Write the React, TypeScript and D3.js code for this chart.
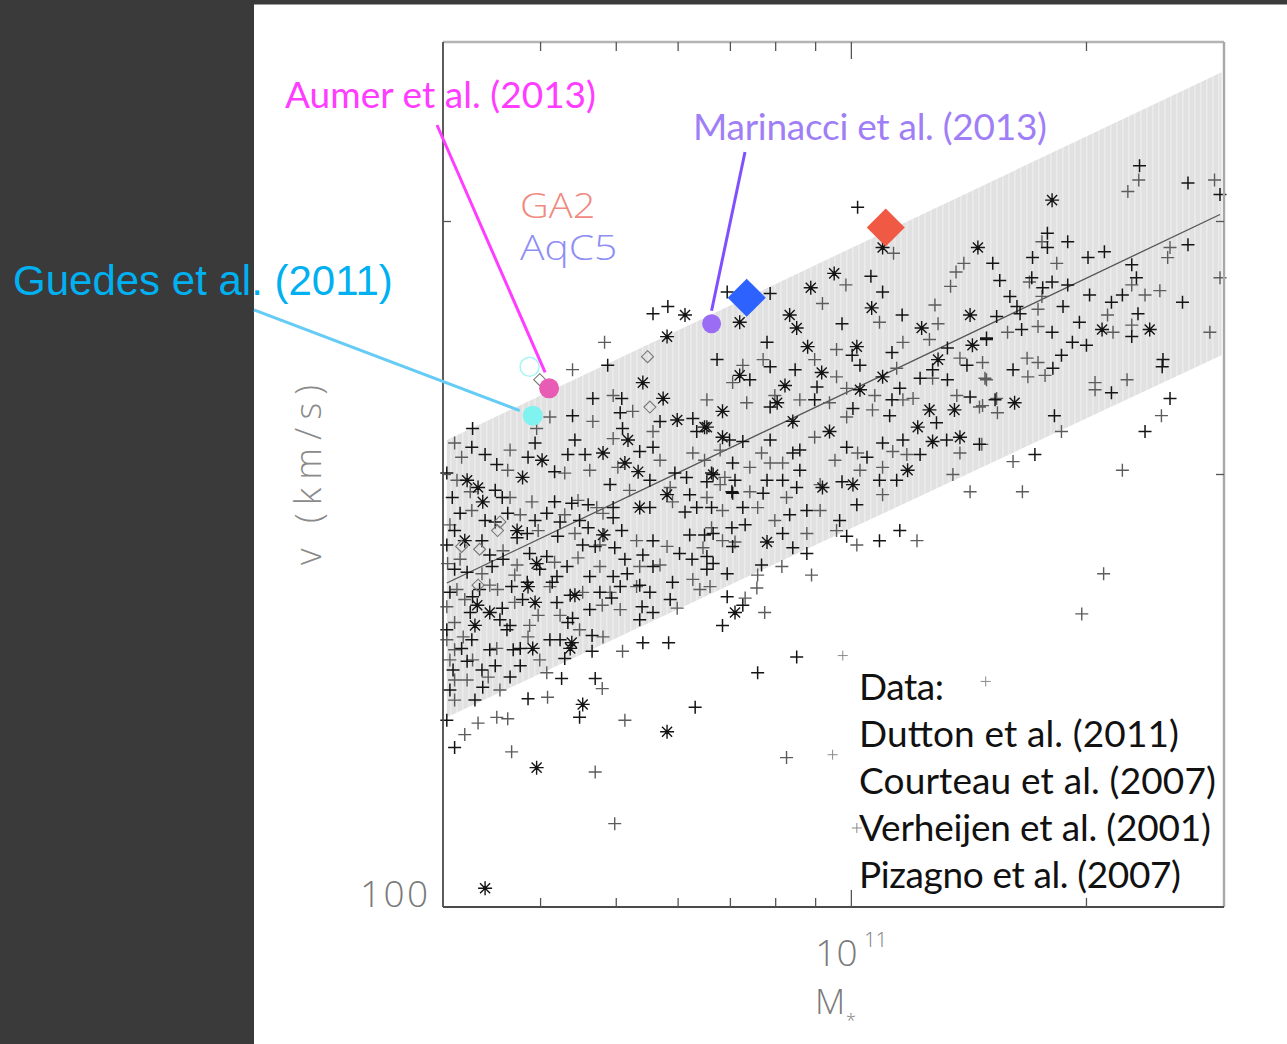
import React from 'react';
import * as d3 from 'd3';

// all data as [log10 M* (Msun), log10 v (km/s)]
const duttonPts: [number, number][] = [
  [10.746, 2.413], [10.765, 2.418], [10.688, 2.377], [10.669, 2.354], [10.706, 2.354], [10.643, 2.342],
  [10.797, 2.340], [10.515, 2.333], [10.514, 2.320], [10.595, 2.323], [10.546, 2.308], [10.586, 2.313],
  [10.620, 2.303], [10.637, 2.315], [10.659, 2.315], [10.729, 2.317], [10.707, 2.333], [10.746, 2.320],
  [10.774, 2.302], [10.789, 2.299], [10.802, 2.331], [10.821, 2.302], [10.851, 2.297], [10.844, 2.325],
  [10.755, 2.338], [10.704, 2.344], [10.531, 2.315],
  [10.482, 2.302], [10.544, 2.290], [10.553, 2.285], [10.560, 2.274], [10.499, 2.274], [10.544, 2.268],
  [10.620, 2.282], [10.610, 2.274], [10.627, 2.268], [10.642, 2.281], [10.663, 2.280], [10.695, 2.278],
  [10.695, 2.271], [10.742, 2.278], [10.787, 2.275], [10.802, 2.278], [10.821, 2.278], [10.847, 2.289],
  [10.663, 2.264], [10.624, 2.258], [10.585, 2.260], [10.572, 2.257], [10.527, 2.255], [10.492, 2.262],
  [10.492, 2.235], [10.508, 2.233], [10.540, 2.237], [10.554, 2.242], [10.588, 2.246], [10.610, 2.244],
  [10.636, 2.237], [10.656, 2.252], [10.672, 2.251], [10.697, 2.250], [10.706, 2.262], [10.733, 2.245],
  [10.746, 2.255], [10.780, 2.246], [10.796, 2.242], [10.815, 2.244], [10.823, 2.260], [10.848, 2.251],
  [10.746, 2.237], [10.713, 2.232], [10.695, 2.230], [10.665, 2.230], [10.623, 2.230], [10.585, 2.226],
  [10.565, 2.223], [10.524, 2.221], [10.515, 2.216], [10.486, 2.219], [10.640, 2.217], [10.678, 2.219],
  [10.704, 2.223], [10.742, 2.219], [10.771, 2.226], [10.815, 2.235], [10.841, 2.232],
  [10.617, 2.226], [10.729, 2.224], [10.768, 2.214], [10.732, 2.209], [10.746, 2.205], [10.693, 2.215],
  [10.623, 2.212], [10.579, 2.214], [10.553, 2.208], [10.512, 2.205], [10.563, 2.196], [10.559, 2.193],
  [10.482, 2.193], [10.514, 2.186], [10.501, 2.180], [10.537, 2.179], [10.567, 2.179], [10.576, 2.180],
  [10.637, 2.198], [10.643, 2.201], [10.668, 2.189], [10.668, 2.178], [10.633, 2.173], [10.508, 2.171],
  [10.490, 2.165], [10.527, 2.165], [10.528, 2.153], [10.563, 2.160], [10.544, 2.168], [10.482, 2.130],
  [10.733, 2.184], [10.766, 2.184], [10.482, 2.252], [10.486, 2.151],
  [10.492, 2.111], [10.652, 2.132], [10.672, 2.159], [10.800, 2.139], [10.880, 2.163], [10.930, 2.174],
  [10.835, 2.196], [10.861, 2.210], [10.586, 2.145], [10.629, 2.159],
  [11.369, 2.516], [11.431, 2.504], [11.472, 2.496], [11.251, 2.469], [11.251, 2.459], [11.277, 2.463],
  [11.181, 2.448], [11.232, 2.452], [11.303, 2.452], [11.324, 2.456], [11.359, 2.447], [11.431, 2.461],
  [11.231, 2.438], [11.257, 2.435], [11.277, 2.433], [11.245, 2.431], [11.203, 2.425], [11.305, 2.426],
  [11.347, 2.426], [11.365, 2.438], [11.424, 2.421], [11.333, 2.421], [11.271, 2.418], [11.212, 2.418],
  [11.216, 2.413], [11.186, 2.411], [11.292, 2.407], [11.367, 2.413], [11.359, 2.397], [11.218, 2.402],
  [11.173, 2.395], [11.257, 2.400], [11.283, 2.393], [11.301, 2.391], [11.269, 2.384], [11.207, 2.374],
  [11.258, 2.375], [11.399, 2.381], [11.398, 2.376], [11.333, 2.358], [11.408, 2.354], [11.376, 2.331],
  [11.260, 2.342], [11.235, 2.315], [11.190, 2.436],
  [11.008, 2.487], [11.025, 2.439], [11.040, 2.428], [10.841, 2.428], [10.896, 2.427],
  [11.065, 2.412], [10.988, 2.406], [10.892, 2.393], [11.001, 2.384], [11.052, 2.386], [11.123, 2.389],
  [11.173, 2.396], [11.148, 2.377], [11.104, 2.374], [10.828, 2.381], [10.896, 2.376], [10.956, 2.362],
  [11.062, 2.361], [11.088, 2.368], [11.123, 2.367], [11.152, 2.355], [11.184, 2.353], [11.109, 2.337],
  [11.052, 2.353], [11.002, 2.347], [10.953, 2.353], [10.896, 2.348], [10.861, 2.324], [10.896, 2.325],
  [10.925, 2.316], [10.934, 2.318], [10.994, 2.320], [11.020, 2.313], [11.040, 2.323], [11.066, 2.325],
  [11.088, 2.315], [11.122, 2.325], [11.164, 2.322], [11.058, 2.297], [11.062, 2.262], [11.007, 2.280],
  [10.988, 2.296], [10.930, 2.292], [10.892, 2.297], [10.848, 2.309], [10.815, 2.296], [10.848, 2.288],
  [10.887, 2.288], [10.912, 2.297], [10.943, 2.276], [10.921, 2.273], [10.861, 2.278], [10.847, 2.264],
  [10.812, 2.259], [10.912, 2.260], [10.943, 2.246], [10.925, 2.250], [10.885, 2.238], [10.823, 2.239],
  [10.841, 2.216], [10.985, 2.269], [10.994, 2.258], [11.036, 2.255],
  [10.489, 2.285], [10.531, 2.269], [10.595, 2.269], [10.537, 2.245], [10.601, 2.235], [10.550, 2.200],
  [10.614, 2.186], [10.518, 2.144], [10.576, 2.168], [10.627, 2.186], [10.646, 2.325], [10.691, 2.294],
  [10.742, 2.297], [10.793, 2.287], [10.652, 2.269], [10.710, 2.242], [10.793, 2.259], [10.729, 2.200],
  [10.665, 2.207], [10.870, 2.367], [10.928, 2.374], [11.011, 2.377], [11.049, 2.342], [10.934, 2.304],
  [10.864, 2.266], [11.036, 2.297],
];

const courteauPts: [number, number][] = [
  [10.684, 2.393], [10.643, 2.374], [10.695, 2.356], [10.669, 2.338], [10.492, 2.323], [10.597, 2.333],
  [10.614, 2.341], [10.560, 2.304], [10.633, 2.302], [10.701, 2.306], [10.695, 2.326], [10.755, 2.311],
  [10.797, 2.316], [10.838, 2.299], [10.746, 2.331], [10.720, 2.345], [10.501, 2.313], [10.563, 2.318],
  [10.495, 2.297], [10.563, 2.285], [10.514, 2.276], [10.591, 2.282], [10.633, 2.273], [10.650, 2.283],
  [10.674, 2.278], [10.682, 2.274], [10.771, 2.282], [10.815, 2.285], [10.835, 2.276], [10.646, 2.260],
  [10.599, 2.262], [10.554, 2.248], [10.483, 2.239], [10.527, 2.232], [10.572, 2.238], [10.620, 2.240],
  [10.650, 2.243], [10.684, 2.259], [10.725, 2.255], [10.764, 2.251], [10.810, 2.250], [10.835, 2.255],
  [10.729, 2.237], [10.678, 2.237], [10.614, 2.223], [10.547, 2.221], [10.495, 2.221], [10.656, 2.219],
  [10.725, 2.223], [10.797, 2.228],
  [10.537, 2.224], [10.691, 2.219], [10.777, 2.208], [10.681, 2.210], [10.599, 2.203], [10.569, 2.212],
  [10.482, 2.209], [10.492, 2.198], [10.503, 2.188], [10.492, 2.179], [10.546, 2.180], [10.586, 2.188],
  [10.652, 2.193], [10.682, 2.188], [10.486, 2.172], [10.515, 2.172], [10.535, 2.160], [10.508, 2.158],
  [10.610, 2.163], [10.707, 2.178], [10.486, 2.266], [10.482, 2.186], [10.492, 2.144],
  [10.505, 2.120], [10.522, 2.128], [10.546, 2.132], [10.560, 2.131], [10.565, 2.108], [10.672, 2.094],
  [10.697, 2.058], [10.681, 2.152], [10.710, 2.130], [10.917, 2.104], [10.889, 2.205], [10.879, 2.222],
  [10.611, 2.146],
  [11.368, 2.506], [11.354, 2.498], [11.465, 2.506], [11.244, 2.463], [11.263, 2.448], [11.408, 2.459],
  [11.405, 2.452], [11.228, 2.435], [11.244, 2.425], [11.359, 2.433], [11.376, 2.426], [11.239, 2.416],
  [11.328, 2.412], [11.359, 2.405], [11.335, 2.400], [11.239, 2.404], [11.200, 2.400], [11.225, 2.382],
  [11.239, 2.379], [11.226, 2.369], [11.248, 2.370], [11.168, 2.379], [11.173, 2.367], [11.312, 2.365],
  [11.312, 2.360], [11.353, 2.367], [11.459, 2.400], [11.397, 2.342], [11.186, 2.354], [11.187, 2.344],
  [11.168, 2.349], [11.167, 2.322], [11.207, 2.310], [11.219, 2.289], [11.347, 2.304], [11.472, 2.438],
  [11.323, 2.232], [11.295, 2.204], [11.395, 2.429], [11.269, 2.331], [11.107, 2.419],
  [11.054, 2.455], [10.993, 2.433], [11.144, 2.448], [11.134, 2.442], [11.127, 2.432],
  [10.963, 2.420], [11.036, 2.407], [11.111, 2.406], [10.981, 2.388], [11.066, 2.393], [11.100, 2.395],
  [11.139, 2.382], [10.861, 2.377], [10.848, 2.365], [10.887, 2.381], [10.981, 2.369], [10.994, 2.361],
  [11.058, 2.375], [11.079, 2.354], [11.104, 2.368], [11.135, 2.356], [11.171, 2.368], [11.164, 2.348],
  [11.066, 2.353], [11.027, 2.346], [10.994, 2.341], [10.972, 2.351], [10.934, 2.353], [10.866, 2.351],
  [10.815, 2.353], [10.885, 2.316], [10.912, 2.309], [10.953, 2.327], [11.008, 2.316], [11.053, 2.317],
  [11.071, 2.315], [11.139, 2.316], [11.040, 2.306], [11.130, 2.301], [11.152, 2.289], [11.084, 2.255],
  [11.040, 2.287], [10.960, 2.294], [10.870, 2.306], [10.832, 2.318], [10.832, 2.294], [10.870, 2.289],
  [10.896, 2.309], [10.917, 2.285], [10.960, 2.276], [10.880, 2.278], [10.821, 2.264], [10.851, 2.254],
  [10.943, 2.260], [10.949, 2.231], [10.911, 2.237], [10.880, 2.231], [10.819, 2.223], [10.864, 2.215],
  [10.981, 2.262], [11.007, 2.252],
  [10.512, 2.289], [10.576, 2.273], [10.499, 2.242], [10.569, 2.231], [10.505, 2.214], [10.588, 2.196],
  [10.492, 2.158], [10.550, 2.151], [10.601, 2.172], [10.665, 2.304], [10.716, 2.290], [10.768, 2.292],
  [10.812, 2.311], [10.678, 2.252], [10.755, 2.238], [10.806, 2.221], [10.704, 2.207], [10.627, 2.203],
  [10.902, 2.356], [10.953, 2.381], [11.030, 2.356], [10.979, 2.311], [10.902, 2.269], [11.011, 2.304],
];

const pizagnoPts: [number, number][] = [
  [10.787, 2.412], [10.764, 2.397], [10.733, 2.365], [10.759, 2.354], [10.777, 2.339], [10.815, 2.334],
  [10.579, 2.299], [10.604, 2.311], [10.682, 2.316], [10.710, 2.309], [10.714, 2.325], [10.727, 2.303],
  [10.835, 2.327], [10.508, 2.297], [10.522, 2.292], [10.528, 2.282], [10.729, 2.278], [10.764, 2.287],
  [10.572, 2.262], [10.505, 2.255], [10.597, 2.239], [10.682, 2.259], [10.586, 2.223], [10.646, 2.217],
  [10.595, 2.212], [10.521, 2.210], [10.537, 2.205], [10.518, 2.196], [10.592, 2.180], [10.642, 2.184],
  [10.640, 2.180], [10.597, 2.097], [10.531, 2.013], [10.656, 2.141], [10.764, 2.122], [10.851, 2.205],
  [11.257, 2.492], [11.321, 2.402], [11.382, 2.402], [11.209, 2.351], [11.040, 2.459], [10.978, 2.441],
  [10.948, 2.431], [11.162, 2.459], [11.026, 2.417], [11.090, 2.403], [11.152, 2.412], [10.921, 2.412],
  [10.857, 2.407], [10.930, 2.403], [10.944, 2.390], [11.007, 2.390], [11.155, 2.391], [11.111, 2.381],
  [10.857, 2.370], [10.915, 2.363], [10.962, 2.372], [11.011, 2.360], [11.040, 2.369], [11.100, 2.346],
  [11.132, 2.346], [10.905, 2.351], [10.835, 2.345], [10.812, 2.334], [10.925, 2.338], [10.972, 2.331],
  [11.085, 2.334], [11.104, 2.324], [11.139, 2.327], [11.072, 2.304], [11.002, 2.294], [10.963, 2.292],
  [10.823, 2.301], [10.892, 2.254],
];

const verheijenPts: [number, number][] = [
  [10.739, 2.383], [10.742, 2.348], [10.601, 2.367], [10.550, 2.268], [10.547, 2.262], [10.501, 2.251],
  [10.522, 2.224], [10.524, 2.249],
];

const faintPts: [number, number][] = [
  [11.172, 2.157], [11.007, 2.055], [10.989, 2.175], [10.976, 2.106],
];

// fitted relation and scatter band (edges at the two ends of the mass range)
const bandLogM = [10.482, 11.474];
const bandUpperLogV = [2.325, 2.581];
const bandLowerLogV = [2.132, 2.384];
const fitLogM = [10.482, 11.472];
const fitLogV = [2.2255, 2.482];

// simulated galaxies
const simNames = ['Guedes', 'GuedesOpen', 'Aumer', 'Marinacci', 'AqC5', 'GA2'];
const simLogM = [10.592, 10.588, 10.613, 10.821, 10.866, 11.044];
const simLogV = [2.342, 2.376, 2.361, 2.406, 2.424, 2.473];

const xMinorTicks = [4e10, 5e10, 6e10, 7e10, 8e10, 9e10, 2e11];
const xMajorTicks = [1e11];
const yTicks = [200, 300];
const legendLines = ['Data:', 'Dutton et al. (2011)', 'Courteau et al. (2007)', 'Verheijen et al. (2001)', 'Pizagno et al. (2007)'];
const legendWidths = [85, 320, 357, 352, 322];

export default function App() {
  const W = 1287, H = 1044;
  const L = 443, R = 1224, T = 42, B = 907;
  const x = d3.scaleLog().domain([3e10, 3e11]).range([L, R]);
  const y = d3.scaleLog().domain([100, 400]).range([B, T]);
  const px = (lm: number) => x(Math.pow(10, lm));
  const py = (lv: number) => y(Math.pow(10, lv));

  const plusD = (pts: [number, number][], s: number) =>
    pts.map(([m, v]) => {
      const cx = px(m), cy = py(v);
      return `M${cx - s},${cy}h${2 * s}M${cx},${cy - s}v${2 * s}`;
    }).join('');
  const starD = (pts: [number, number][], s: number) =>
    pts.map(([m, v]) => {
      const cx = px(m), cy = py(v), k = s * 0.72;
      return `M${cx - s},${cy}h${2 * s}M${cx},${cy - s}v${2 * s}M${cx - k},${cy - k}l${2 * k},${2 * k}M${cx - k},${cy + k}l${2 * k},${-2 * k}`;
    }).join('');
  const diamondD = (cx: number, cy: number, r: number) => `M${cx},${cy - r}L${cx + r},${cy}L${cx},${cy + r}L${cx - r},${cy}Z`;

  const bandArea = d3.area<number>()
    .x((_, i) => px(bandLogM[i]))
    .y0((_, i) => py(bandLowerLogV[i]))
    .y1((_, i) => py(bandUpperLogV[i]));
  const fitLine = d3.line<number>().x((_, i) => px(fitLogM[i])).y((_, i) => py(fitLogV[i]));

  const sx = simLogM.map(px);
  const sy = simLogV.map(py);
  const idx = (n: string) => simNames.indexOf(n);
  const gi = idx('Guedes'), go = idx('GuedesOpen'), ai = idx('Aumer'), mi = idx('Marinacci'), qi = idx('AqC5'), ri = idx('GA2');

  const thin = "'Open Sans', 'DejaVu Sans', sans-serif";
  const gill = "Lato, 'Open Sans', sans-serif";

  return (
    <svg width={W} height={H} style={{ position: 'absolute', left: 0, top: 0 }}>
      <defs>
        <pattern id="stripes" width="6" height="10" patternUnits="userSpaceOnUse">
          <rect width="6" height="10" fill="#e1e1e1" />
          <rect x="0" width="1.6" height="10" fill="#ebebeb" />
        </pattern>
      </defs>
      <rect x={0} y={0} width={W} height={H} fill="#ffffff" />
      <rect x={0} y={0} width={254} height={H} fill="#3a3a3a" />
      <rect x={0} y={0} width={W} height={4.5} fill="#3a3a3a" />

      <path d={bandArea([0, 1]) || ''} fill="url(#stripes)" />
      <path d={fitLine([0, 1]) || ''} fill="none" stroke="#555" strokeWidth={1.3} />

      <path d={plusD(courteauPts, 6.5)} fill="none" stroke="#5c5c5c" strokeWidth={1.4} />
      <path d={plusD(duttonPts, 6.5)} fill="none" stroke="#141414" strokeWidth={1.5} />
      <path d={starD(pizagnoPts, 7)} fill="none" stroke="#141414" strokeWidth={1.4} />
      <path d={verheijenPts.map(([m, v]) => diamondD(px(m), py(v), 6)).join('')} fill="none" stroke="#777" strokeWidth={1.1} />
      <path d={plusD(faintPts, 5)} fill="none" stroke="#8a8a8a" strokeWidth={1} />

      {/* frame */}
      <line x1={L} y1={T} x2={R} y2={T} stroke="#b4b4b4" strokeWidth={2.6} />
      <line x1={R} y1={T} x2={R} y2={B} stroke="#a8a8a8" strokeWidth={2.4} />
      <line x1={L} y1={T} x2={L} y2={B} stroke="#4a4a4a" strokeWidth={1.8} />
      <line x1={L} y1={B} x2={R} y2={B} stroke="#4a4a4a" strokeWidth={1.8} />
      {xMinorTicks.map(t => (
        <g key={'xt' + t} stroke="#555" strokeWidth={1.3}>
          <line x1={x(t)} x2={x(t)} y1={B} y2={B - 9} />
          <line x1={x(t)} x2={x(t)} y1={T} y2={T + 9} />
        </g>
      ))}
      {xMajorTicks.map(t => (
        <g key={'xM' + t} stroke="#555" strokeWidth={1.3}>
          <line x1={x(t)} x2={x(t)} y1={B} y2={B - 17} />
          <line x1={x(t)} x2={x(t)} y1={T} y2={T + 17} />
        </g>
      ))}
      {yTicks.map(t => (
        <g key={'yt' + t} stroke="#555" strokeWidth={1.3}>
          <line x1={L} x2={L + 8} y1={y(t)} y2={y(t)} />
          <line x1={R} x2={R - 8} y1={y(t)} y2={y(t)} />
        </g>
      ))}

      {/* axis labels */}
      <text x={L - 15} y={y(100)} textAnchor="end" fontFamily={thin} fontWeight={300} fontSize={37} fill="#7a7a7a" textLength={68}>100</text>
      <text x={x(1e11) - 36} y={966} fontFamily={thin} fontWeight={300} fontSize={37} fill="#7a7a7a">10</text>
      <text x={x(1e11) + 13} y={947} fontFamily={thin} fontWeight={300} fontSize={20} fill="#7a7a7a">11</text>
      <text x={815} y={1014} fontFamily={thin} fontWeight={300} fontSize={35} fill="#7a7a7a">M</text>
      <text x={846} y={1027} fontFamily={thin} fontWeight={300} fontSize={18} fill="#7a7a7a">*</text>
      <text transform="translate(321,475) rotate(-90)" textAnchor="middle" fontFamily={thin} fontWeight={300} fontSize={36} fill="#8a8a8a" textLength={180}>v (km/s)</text>

      {/* legend */}
      {legendLines.map((s, i) => (
        <text key={s} x={859} y={700 + i * 47} fontFamily={gill} fontSize={37} fill="#111" textLength={legendWidths[i]}>{s}</text>
      ))}

      {/* annotation lines */}
      <line x1={437} y1={125} x2={sx[ai] - 4} y2={sy[ai] - 16} stroke="#ff3cff" strokeWidth={3} />
      <line x1={745} y1={152} x2={sx[mi]} y2={sy[mi] - 13} stroke="#8050ff" strokeWidth={3} />
      <line x1={254} y1={310} x2={sx[gi] - 13} y2={sy[gi] - 5} stroke="#66ccf5" strokeWidth={3} />

      {/* simulations */}
      <circle cx={sx[go]} cy={sy[go]} r={9.5} fill="none" stroke="#a8f6f6" strokeWidth={1.6} />
      <circle cx={sx[gi]} cy={sy[gi]} r={10} fill="#80f2f0" />
      <circle cx={sx[ai]} cy={sy[ai]} r={10} fill="#e85cb4" />
      <circle cx={sx[mi]} cy={sy[mi]} r={9.5} fill="#9b6df5" />
      <path d={diamondD(sx[qi], sy[qi], 19)} fill="#2d62ff" />
      <path d={diamondD(sx[ri], sy[ri], 19)} fill="#f05a45" />

      {/* annotation text */}
      <text x={285} y={108} fontFamily={gill} fontSize={37} fill="#ff3cff" textLength={311}>Aumer et al. (2013)</text>
      <text x={693} y={140} fontFamily={gill} fontSize={37} fill="#a07ff6" textLength={354}>Marinacci et al. (2013)</text>
      <text transform="translate(520,218) scale(1.17,1)" fontFamily={thin} fontWeight={300} fontSize={34} fill="#f08a80">GA2</text>
      <text transform="translate(520,260) scale(1.2,1)" fontFamily={thin} fontWeight={300} fontSize={34} fill="#8e8ef5">AqC5</text>
      <text x={13} y={295} fontFamily="'Liberation Sans', Arial, sans-serif" fontSize={42} fill="#00b0f0">Guedes et al. (2011)</text>
    </svg>
  );
}
